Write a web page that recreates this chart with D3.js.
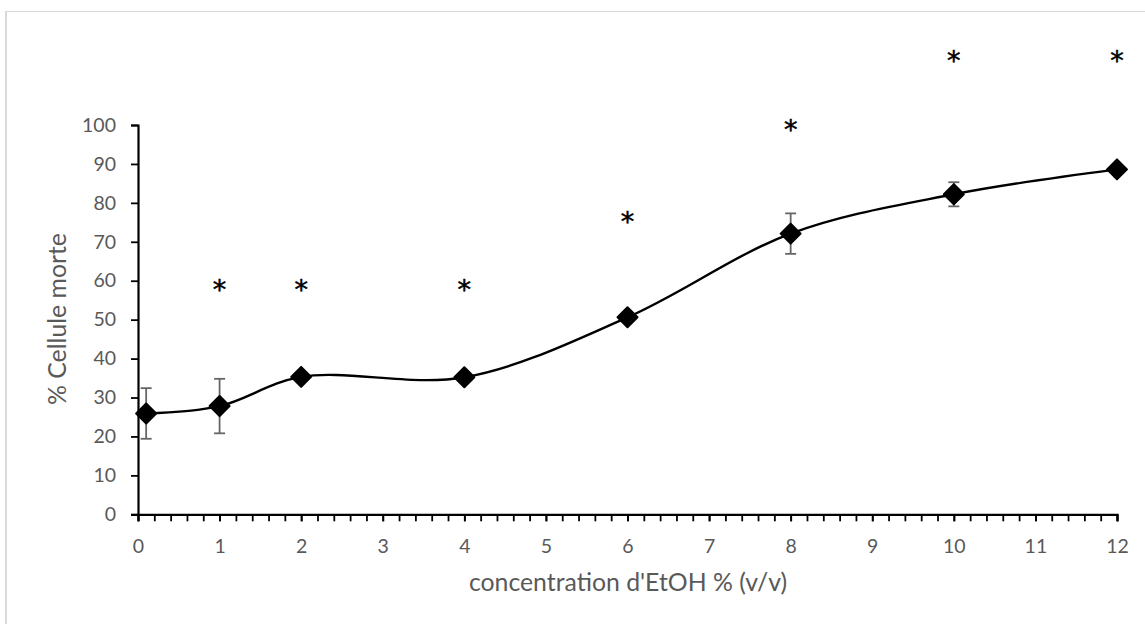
<!DOCTYPE html>
<html>
<head>
<meta charset="utf-8">
<script src="https://cdn.jsdelivr.net/npm/d3@7"></script>
<style>
  html, body { margin: 0; padding: 0; background: #fff; }
  svg { display: block; }
</style>
</head>
<body>
<svg id="chart" width="1145" height="624"></svg>
<script>
// Ethanol concentration (% v/v) and mean percentage of dead cells
const concentrations = [0.1, 1, 2, 4, 6, 8, 10, 12];
const deadCells      = [25.9, 27.8, 35.3, 35.2, 50.6, 72.1, 82.2, 88.6];
// Standard deviation for each concentration
const errors         = [6.5, 7.0, 0, 0, 0, 5.2, 3.1, 0];
// Significance markers: x position and height of the asterisk
const starX          = [1, 2, 4, 6, 8, 10, 12];
const starY          = [58.2, 58.2, 58.2, 75.8, 99.3, 117, 117];
// Axis ticks
const xTicks = d3.range(0, 13);
const yTicks = d3.range(0, 101, 10);
const xMinorTicks = d3.range(0, 60.5, 1).map(i => i / 5);

const svg = d3.select("#chart");
const W = 1145, H = 624;
const textGrey = "#595959";
const font = "Lato, 'Open Sans', sans-serif";

// Chart frame
svg.append("rect")
  .attr("x", 6).attr("y", 11.5)
  .attr("width", W + 10).attr("height", H + 10)
  .attr("fill", "#fff")
  .attr("stroke", "#d9d9d9").attr("stroke-width", 1);
svg.append("line")
  .attr("x1", 6).attr("x2", 6).attr("y1", 11).attr("y2", H)
  .attr("stroke", "#d9d9d9").attr("stroke-width", 2);

const x = d3.scaleLinear().domain([0, 12]).range([138, 1117]);
const y = d3.scaleLinear().domain([0, 100]).range([514.3, 125]);

// Y axis
const yAxis = svg.append("g")
  .attr("transform", `translate(${x(0)},0)`)
  .call(d3.axisLeft(y).tickValues(yTicks).tickSize(7).tickPadding(15));
yAxis.select(".domain").attr("stroke", "#000").attr("stroke-width", 2.2);
yAxis.selectAll(".tick line").attr("stroke", "#000").attr("stroke-width", 1.8);
yAxis.selectAll(".tick text")
  .attr("fill", textGrey).attr("font-size", 19.5)
  .attr("font-family", font);

// X axis: minor ticks every 0.2, labels at integers
const xMinor = svg.append("g")
  .attr("transform", `translate(0,${y(0)})`)
  .call(d3.axisBottom(x).tickValues(xMinorTicks).tickSize(7).tickFormat(""));
xMinor.select(".domain").attr("stroke", "#000").attr("stroke-width", 2.2);
xMinor.selectAll(".tick line").attr("stroke", "#000").attr("stroke-width", 1.8);

const xAxis = svg.append("g")
  .attr("transform", `translate(0,${y(0)})`)
  .call(d3.axisBottom(x).tickValues(xTicks).tickSize(7).tickPadding(18));
xAxis.select(".domain").remove();
xAxis.selectAll(".tick line").attr("stroke", "#000").attr("stroke-width", 1.8);
xAxis.selectAll(".tick text")
  .attr("fill", textGrey).attr("font-size", 19.5)
  .attr("font-family", font);

// Axis titles
svg.append("text")
  .attr("x", 628).attr("y", 591)
  .attr("text-anchor", "middle")
  .attr("fill", textGrey).attr("font-size", 24.8)
  .attr("font-family", font)
  .text("concentration d'EtOH % (v/v)");
svg.append("text")
  .attr("transform", "translate(66,319) rotate(-90)")
  .attr("text-anchor", "middle")
  .attr("fill", textGrey).attr("font-size", 24.8)
  .attr("font-family", font)
  .text("% Cellule morte");

const data = concentrations.map((c, i) => ({ c, v: deadCells[i], e: errors[i] }));

// Smoothed line through the means
const line = d3.line()
  .x(d => x(d.c)).y(d => y(d.v))
  .curve(d3.curveCatmullRom.alpha(0.5));
svg.append("path")
  .datum(data)
  .attr("d", line)
  .attr("fill", "none")
  .attr("stroke", "#000")
  .attr("stroke-width", 2.4);

// Error bars
const eb = svg.append("g").attr("stroke", "#666").attr("stroke-width", 1.8);
data.filter(d => d.e > 0).forEach(d => {
  const cx = x(d.c);
  eb.append("line").attr("x1", cx).attr("x2", cx)
    .attr("y1", y(d.v - d.e)).attr("y2", y(d.v + d.e));
  [d.v - d.e, d.v + d.e].forEach(v => {
    eb.append("line").attr("x1", cx - 5.5).attr("x2", cx + 5.5)
      .attr("y1", y(v)).attr("y2", y(v));
  });
});

// Diamond markers
svg.append("g").selectAll("path")
  .data(data)
  .join("path")
  .attr("d", d3.symbol().type(d3.symbolSquare).size(200))
  .attr("transform", d => `translate(${x(d.c)},${y(d.v)}) rotate(45)`)
  .attr("fill", "#000")
  .attr("stroke", "#000")
  .attr("stroke-width", 2)
  .attr("stroke-linejoin", "round");

// Significance asterisks
svg.append("g").selectAll("text")
  .data(starX.map((c, i) => ({ c, v: starY[i] })))
  .join("text")
  .attr("x", d => x(d.c))
  .attr("y", d => y(d.v) + 11.5)
  .attr("text-anchor", "middle")
  .attr("fill", "#000")
  .attr("stroke", "#000")
  .attr("stroke-width", 0.5)
  .attr("font-family", "'DejaVu Sans', sans-serif")
  .attr("font-size", 27)
  .text("*");
</script>
</body>
</html>
